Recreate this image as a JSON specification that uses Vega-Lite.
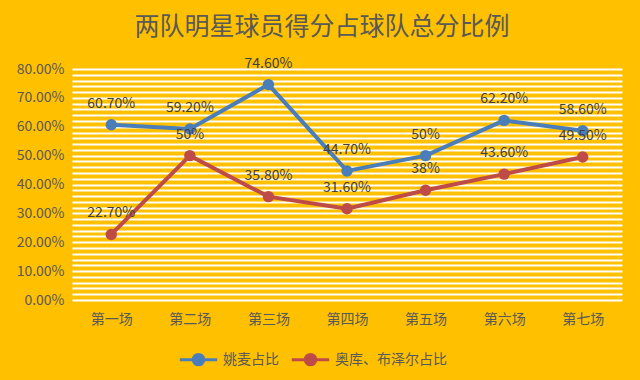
{
  "$schema": "https://vega.github.io/schema/vega-lite/v6.json",
  "width": 550,
  "height": 231,
  "autosize": {"type": "none"},
  "padding": {"left": 72, "top": 69, "right": 18, "bottom": 80},
  "background": "#FFC000",
  "title": {
    "text": "两队明星球员得分占球队总分比例",
    "font": "Noto Sans CJK SC",
    "fontSize": 25,
    "fontWeight": "normal",
    "color": "#595959",
    "anchor": "middle",
    "dx": -25,
    "offset": 17
  },
  "config": {
    "view": {"stroke": null},
    "font": "Noto Sans CJK SC"
  },
  "data": {
    "values": [
      {"game": "第一场", "series": "姚麦占比", "value": 0.607, "label": "60.70%"},
      {"game": "第二场", "series": "姚麦占比", "value": 0.592, "label": "59.20%"},
      {"game": "第三场", "series": "姚麦占比", "value": 0.746, "label": "74.60%"},
      {"game": "第四场", "series": "姚麦占比", "value": 0.447, "label": "44.70%"},
      {"game": "第五场", "series": "姚麦占比", "value": 0.50, "label": "50%"},
      {"game": "第六场", "series": "姚麦占比", "value": 0.622, "label": "62.20%"},
      {"game": "第七场", "series": "姚麦占比", "value": 0.586, "label": "58.60%"},
      {"game": "第一场", "series": "奥库、布泽尔占比", "value": 0.227, "label": "22.70%"},
      {"game": "第二场", "series": "奥库、布泽尔占比", "value": 0.50, "label": "50%"},
      {"game": "第三场", "series": "奥库、布泽尔占比", "value": 0.358, "label": "35.80%"},
      {"game": "第四场", "series": "奥库、布泽尔占比", "value": 0.316, "label": "31.60%"},
      {"game": "第五场", "series": "奥库、布泽尔占比", "value": 0.38, "label": "38%"},
      {"game": "第六场", "series": "奥库、布泽尔占比", "value": 0.436, "label": "43.60%"},
      {"game": "第七场", "series": "奥库、布泽尔占比", "value": 0.495, "label": "49.50%"}
    ]
  },
  "encoding": {
    "x": {
      "field": "game",
      "type": "ordinal",
      "sort": null,
      "scale": {"type": "point", "padding": 0.5},
      "axis": {
        "title": null,
        "labelAngle": 0,
        "labelColor": "#595959",
        "labelFontSize": 14,
        "labelPadding": 12,
        "ticks": false,
        "domain": false,
        "grid": false
      }
    },
    "y": {
      "field": "value",
      "type": "quantitative",
      "scale": {"domain": [0, 0.8], "nice": false},
      "axis": {
        "title": null,
        "values": [0,0.02,0.04,0.06,0.08,0.1,0.12,0.14,0.16,0.18,0.2,0.22,0.24,0.26,0.28,0.3,0.32,0.34,0.36,0.38,0.4,0.42,0.44,0.46,0.48,0.5,0.52,0.54,0.56,0.58,0.6,0.62,0.64,0.66,0.68,0.7,0.72,0.74,0.76,0.78,0.8],
        "labelExpr": "round(datum.value*100) % 10 == 0 ? format(datum.value, '.2%') : ''",
        "labelColor": "#595959",
        "labelFontSize": 14,
        "labelPadding": 8,
        "ticks": false,
        "domain": false,
        "grid": true,
        "gridColor": "#FFFFFF",
        "gridWidth": 2,
        "gridOpacity": 1
      }
    },
    "color": {
      "field": "series",
      "type": "nominal",
      "sort": ["姚麦占比", "奥库、布泽尔占比"],
      "scale": {"domain": ["姚麦占比", "奥库、布泽尔占比"], "range": ["#4A7EBB", "#BE4B48"]},
      "legend": {
        "title": null,
        "orient": "none",
        "direction": "horizontal",
        "legendX": 106,
        "legendY": 270,
        "labelColor": "#595959",
        "labelFontSize": 14,
        "symbolType": "M-1,0L1,0M-0.28,0A0.28,0.28,0,1,1,0.28,0A0.28,0.28,0,1,1,-0.28,0Z",
        "symbolSize": 1400,
        "symbolStrokeWidth": 3,
        "columnPadding": 6,
        "labelOffset": 4
      }
    }
  },
  "layer": [
    {"mark": {"type": "line", "strokeWidth": 4}},
    {"mark": {"type": "point", "filled": true, "size": 130, "opacity": 1}},
    {
      "mark": {"type": "text", "dy": -21, "fontSize": 14, "color": "#404040", "baseline": "middle"},
      "encoding": {"text": {"field": "label"}, "color": {"value": "#404040"}}
    }
  ]
}
